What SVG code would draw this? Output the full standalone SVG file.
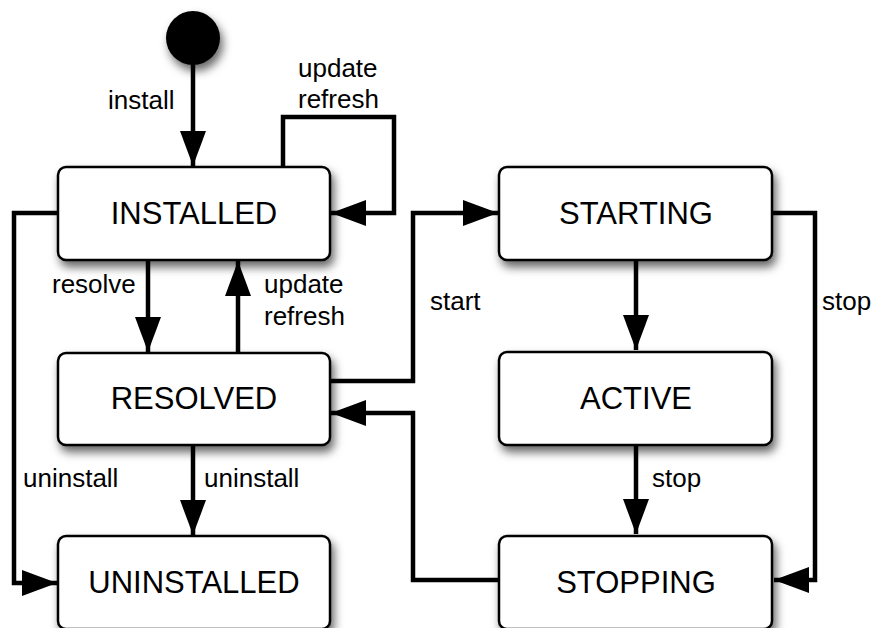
<svg xmlns="http://www.w3.org/2000/svg" width="875" height="628" viewBox="0 0 875 628">
<defs>
<filter id="sh" x="-20%" y="-20%" width="150%" height="160%">
<feDropShadow dx="3" dy="6" stdDeviation="5" flood-color="#000" flood-opacity="0.6"/>
</filter>
<marker id="ah" viewBox="0 0 35 26" refX="35" refY="13" markerWidth="35" markerHeight="26" markerUnits="userSpaceOnUse" orient="auto">
<path d="M0,0 L35,13 L0,26 Z" fill="#000"/>
</marker>
</defs>
<style>
.box{fill:#fff;stroke:#000;stroke-width:2.5;filter:url(#sh)}
.name{font-family:"Liberation Sans",Arial,sans-serif;font-size:31px;text-anchor:middle;fill:#000}
.lbl{font-family:"Liberation Sans",Arial,sans-serif;font-size:26px;fill:#000}
.c{fill:none;stroke:#000;stroke-width:4.5;stroke-linejoin:miter}
.a{marker-end:url(#ah)}
</style>
<rect width="875" height="628" fill="#fff"/>
<g id="connectors">
<path class="c a" d="M193,64 V166"/>
<path class="c a" d="M283,167 V117 H394 V213 H331"/>
<path class="c a" d="M58,213 H14 V583 H57"/>
<path class="c a" d="M148,260 V352"/>
<path class="c a" d="M238,353 V261"/>
<path class="c a" d="M193,445 V535"/>
<path class="c a" d="M330,381 H413 V213 H498"/>
<path class="c a" d="M499,580 H413 V413 H331"/>
<path class="c a" d="M636,260 V350"/>
<path class="c a" d="M636,445 V534"/>
<path class="c a" d="M772,213 H815 V580 H774"/>
</g>
<g id="initial"><circle cx="193" cy="38" r="27" fill="#000" filter="url(#sh)"/></g>
<g id="installed"><rect class="box" x="58" y="167" width="272" height="93" rx="8"/><text class="name" x="194" y="224">INSTALLED</text></g>
<g id="resolved"><rect class="box" x="58" y="353" width="272" height="92" rx="8"/><text class="name" x="194" y="409">RESOLVED</text></g>
<g id="uninstalled"><rect class="box" x="58" y="536" width="272" height="93" rx="8"/><text class="name" x="194" y="593">UNINSTALLED</text></g>
<g id="starting"><rect class="box" x="499" y="167" width="273" height="93" rx="8"/><text class="name" x="636" y="224">STARTING</text></g>
<g id="active"><rect class="box" x="499" y="352" width="273" height="93" rx="8"/><text class="name" x="636" y="409">ACTIVE</text></g>
<g id="stopping"><rect class="box" x="499" y="536" width="273" height="93" rx="8"/><text class="name" x="636" y="593">STOPPING</text></g>
<g id="labels">
<text class="lbl" x="108" y="109">install</text>
<text class="lbl" x="298" y="77">update</text>
<text class="lbl" x="298" y="108">refresh</text>
<text class="lbl" x="52" y="293">resolve</text>
<text class="lbl" x="264" y="293">update</text>
<text class="lbl" x="264" y="325">refresh</text>
<text class="lbl" x="430" y="310">start</text>
<text class="lbl" x="822" y="310">stop</text>
<text class="lbl" x="23" y="487">uninstall</text>
<text class="lbl" x="204" y="487">uninstall</text>
<text class="lbl" x="652" y="487">stop</text>
</g>
</svg>
